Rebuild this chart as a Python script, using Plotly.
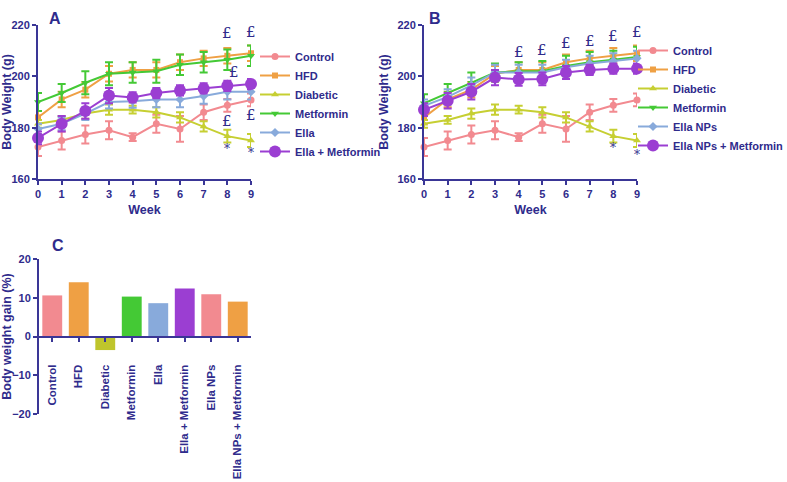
import plotly.graph_objects as go

# ---------------- data ----------------
weeks = [0, 1, 2, 3, 4, 5, 6, 7, 8, 9]

control = [172.5, 175.0, 177.3, 179.0, 176.3, 181.5, 179.5, 186.0, 188.7, 190.8]
control_err = [3.5, 3.5, 3.5, 3.5, 1.5, 3.5, 5.0, 3.0, 2.5, 2.5]
hfd = [184.0, 191.0, 194.8, 201.0, 202.5, 202.5, 205.5, 207.0, 208.0, 209.0]
hfd_err = [2.5, 3.0, 3.0, 3.0, 3.0, 3.0, 3.0, 3.0, 3.0, 3.0]
diabetic = [181.5, 183.0, 185.5, 187.0, 187.0, 186.0, 184.0, 180.5, 176.7, 175.0]
diabetic_err = [1.5, 1.5, 2.0, 2.0, 1.5, 2.0, 2.0, 2.0, 2.5, 2.5]
metformin_a = [190.0, 193.5, 197.5, 201.0, 201.5, 202.0, 204.5, 205.5, 206.5, 208.0]
metformin_a_err = [3.5, 3.5, 4.5, 4.5, 4.0, 4.5, 4.0, 4.0, 4.0, 4.0]
ella = [179.5, 181.5, 185.5, 190.0, 190.3, 191.0, 191.0, 192.3, 194.0, 194.0]
ella_err = [2.0, 2.5, 2.5, 2.5, 2.5, 3.0, 3.0, 3.0, 3.0, 3.0]
ella_met = [176.0, 181.5, 186.5, 192.5, 191.8, 193.5, 194.5, 195.3, 196.3, 197.0]
ella_met_err = [2.5, 3.0, 3.0, 3.0, 2.0, 2.0, 2.0, 2.0, 2.0, 2.0]

metformin_b = [189.5, 193.5, 197.5, 201.5, 202.0, 202.0, 204.0, 205.5, 206.5, 207.5]
metformin_b_err = [3.5, 3.5, 4.0, 3.5, 3.5, 4.0, 4.0, 4.0, 3.5, 4.0]
ella_nps = [188.5, 192.0, 196.5, 201.5, 201.5, 201.5, 203.5, 205.0, 206.0, 207.0]
ella_nps_err = [2.5, 3.0, 3.0, 3.0, 3.0, 3.0, 3.0, 3.0, 3.0, 3.0]
ella_nps_met = [187.0, 190.5, 194.0, 199.5, 198.8, 199.0, 201.5, 202.5, 203.0, 203.0]
ella_nps_met_err = [2.5, 3.0, 3.0, 3.0, 2.5, 2.5, 2.5, 2.0, 2.0, 2.0]

gain_groups = ["Control", "HFD", "Diabetic", "Metformin", "Ella", "Ella + Metformin",
               "Ella NPs", "Ella NPs + Metformin"]
gain_values = [10.6, 14.0, -3.5, 10.3, 8.6, 12.4, 10.9, 9.0]

# significance marks: (week, value, symbol)
marks_a = [(8, 216.9, "£"), (9, 217.4, "£"), (8.3, 201.8, "£"), (9.35, 201.8, "£"),
           (8, 182.6, "£"), (9, 184.8, "£"), (8, 171.8, "*"), (9, 170.0, "*")]
marks_b = [(4, 209.4, "£"), (5, 210.1, "£"), (6, 212.8, "£"), (7, 213.8, "£"),
           (8, 215.7, "£"), (9, 217.4, "£"), (8, 171.9, "*"), (9, 169.5, "*")]

# ---------------- style ----------------
W, H = 787, 482
TXT = "#2F2B8C"
AX = "#3A3696"
FONT = "Liberation Sans"
PINK, ORANGE, YEL, GREEN, BLUE, PURPLE = "#F28A90", "#EFA044", "#C6CF32", "#44C935", "#88AADB", "#9B3ED2"
bar_colors = [PINK, ORANGE, "#BFC52C", GREEN, BLUE, PURPLE, PINK, ORANGE]


def px_x(p):
    return p / W


def px_y(p):
    return 1 - p / H


fig = go.Figure()

series_a = [
    ("Control", control, control_err, PINK, "circle", 7),
    ("HFD", hfd, hfd_err, ORANGE, "square", 6),
    ("Diabetic", diabetic, diabetic_err, YEL, "triangle-up", 7),
    ("Metformin", metformin_a, metformin_a_err, GREEN, "triangle-down", 7),
    ("Ella", ella, ella_err, BLUE, "diamond", 7),
    ("Ella + Metformin", ella_met, ella_met_err, PURPLE, "circle", 12),
]
series_b = [
    ("Control", control, control_err, PINK, "circle", 7),
    ("HFD", hfd, hfd_err, ORANGE, "square", 6),
    ("Diabetic", diabetic, diabetic_err, YEL, "triangle-up", 7),
    ("Metformin", metformin_b, metformin_b_err, GREEN, "triangle-down", 7),
    ("Ella NPs", ella_nps, ella_nps_err, BLUE, "diamond", 7),
    ("Ella NPs + Metformin", ella_nps_met, ella_nps_met_err, PURPLE, "circle", 12),
]

for series, xa, ya, lg in [(series_a, "x", "y", "legend"), (series_b, "x2", "y2", "legend2")]:
    for name, vals, err, col, sym, sz in series:
        fig.add_trace(go.Scatter(
            x=weeks, y=vals, name=name, mode="lines+markers",
            line=dict(color=col, width=2),
            marker=dict(color=col, symbol=sym, size=sz),
            error_y=dict(type="data", array=err, color=col, thickness=2, width=4),
            xaxis=xa, yaxis=ya, legend=lg, cliponaxis=False, hoverinfo="skip",
        ))

fig.add_trace(go.Bar(
    x=gain_groups, y=gain_values, marker=dict(color=bar_colors, line=dict(width=0)),
    xaxis="x3", yaxis="y3", showlegend=False, width=0.75, hoverinfo="skip",
))

tickfont = dict(family=FONT, size=11, color=TXT, weight="bold")
xcatfont = dict(family=FONT, size=11.5, color=TXT, weight="bold")
titlefont = dict(family=FONT, size=12.5, color=TXT, weight="bold")
axcommon = dict(showgrid=False, zeroline=False, showline=True, linecolor=AX, linewidth=2,
                ticks="outside", ticklen=4, tickwidth=2, tickcolor=AX,
                automargin=False)

fig.update_layout(
    xaxis=dict(domain=[px_x(38), px_x(251)], range=[0, 9], tickvals=weeks, anchor="y",
               tickfont=tickfont, title=dict(text="Week", font=titlefont, standoff=6), **axcommon),
    yaxis=dict(domain=[px_y(179), px_y(25)], range=[160, 220], tickvals=[160, 180, 200, 220],
               anchor="x", tickfont=tickfont,
               title=dict(text="Body Weight (g)", font=titlefont, standoff=6), **axcommon),
    xaxis2=dict(domain=[px_x(424), px_x(637)], range=[0, 9], tickvals=weeks, anchor="y2",
                tickfont=tickfont, title=dict(text="Week", font=titlefont, standoff=6), **axcommon),
    yaxis2=dict(domain=[px_y(179), px_y(25)], range=[160, 220], tickvals=[160, 180, 200, 220],
                anchor="x2", tickfont=tickfont,
                title=dict(text="Body Weight (g)", font=titlefont, standoff=6), **axcommon),
    xaxis3=dict(domain=[px_x(39), px_x(251)], anchor="free", position=px_y(337),
                tickangle=-90, ticklabelstandoff=18, tickfont=xcatfont, **axcommon),
    yaxis3=dict(domain=[px_y(414), px_y(259)], range=[-20, 20], tickvals=[-20, -10, 0, 10, 20],
                anchor="x3", tickfont=tickfont,
                title=dict(text="Body weight gain (%)", font=titlefont, standoff=6), **axcommon),
)

legfont = dict(family=FONT, size=11, color=TXT, weight="bold")
fig.update_layout(
    legend=dict(x=px_x(255), y=px_y(42), xanchor="left", yanchor="top", font=legfont,
                bgcolor="rgba(0,0,0,0)", tracegroupgap=0, itemwidth=30),
    legend2=dict(x=px_x(633), y=px_y(36), xanchor="left", yanchor="top", font=legfont,
                 bgcolor="rgba(0,0,0,0)", tracegroupgap=0, itemwidth=30),
)

annots = []
for (xv, yv, s) in marks_a:
    annots.append(dict(x=xv, y=yv, xref="x", yref="y", text=s, showarrow=False,
                       font=dict(family="DejaVu Serif", size=15 if s == "£" else 12, color=TXT)))
for (xv, yv, s) in marks_b:
    annots.append(dict(x=xv, y=yv, xref="x2", yref="y2", text=s, showarrow=False,
                       font=dict(family="DejaVu Serif", size=15 if s == "£" else 12, color=TXT)))
for lab, xp, yp in [("A", 47, 8), ("B", 435, 8), ("C", 50, 245)]:
    annots.append(dict(x=px_x(xp), y=px_y(yp), xref="paper", yref="paper", text=lab,
                       showarrow=False, font=dict(family=FONT, size=16, color=TXT, weight="bold")))

fig.update_layout(
    annotations=annots, width=W, height=H,
    margin=dict(l=0, r=0, t=0, b=0, autoexpand=False),
    paper_bgcolor="white", plot_bgcolor="white", bargap=0.25, hovermode=False,
)

fig.write_html("out.html", config={"displayModeBar": False},
               post_script="document.body.style.margin='0';document.body.style.overflow='hidden';")
